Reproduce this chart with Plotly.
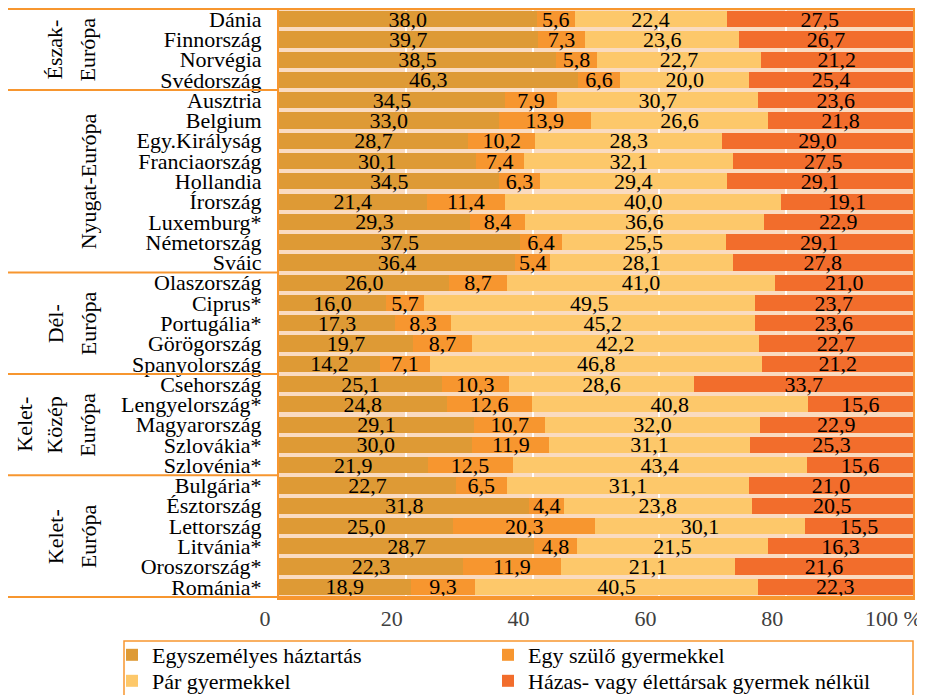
import plotly.graph_objects as go

countries = ["Dánia", "Finnország", "Norvégia", "Svédország",
             "Ausztria", "Belgium", "Egy.Királyság", "Franciaország", "Hollandia",
             "Írország", "Luxemburg*", "Németország", "Sváic",
             "Olaszország", "Ciprus*", "Portugália*", "Görögország", "Spanyolország",
             "Csehország", "Lengyelország*", "Magyarország", "Szlovákia*", "Szlovénia*",
             "Bulgária*", "Észtország", "Lettország", "Litvánia*", "Oroszország*", "Románia*"]

egyszemelyes = [38.0, 39.7, 38.5, 46.3, 34.5, 33.0, 28.7, 30.1, 34.5, 21.4, 29.3, 37.5, 36.4,
                26.0, 16.0, 17.3, 19.7, 14.2, 25.1, 24.8, 29.1, 30.0, 21.9,
                22.7, 31.8, 25.0, 28.7, 22.3, 18.9]
egy_szulo = [5.6, 7.3, 5.8, 6.6, 7.9, 13.9, 10.2, 7.4, 6.3, 11.4, 8.4, 6.4, 5.4,
             8.7, 5.7, 8.3, 8.7, 7.1, 10.3, 12.6, 10.7, 11.9, 12.5,
             6.5, 4.4, 20.3, 4.8, 11.9, 9.3]
par_gyermekkel = [22.4, 23.6, 22.7, 20.0, 30.7, 26.6, 28.3, 32.1, 29.4, 40.0, 36.6, 25.5, 28.1,
                  41.0, 49.5, 45.2, 42.2, 46.8, 28.6, 40.8, 32.0, 31.1, 43.4,
                  31.1, 23.8, 30.1, 21.5, 21.1, 40.5]
hazas = [27.5, 26.7, 21.2, 25.4, 23.6, 21.8, 29.0, 27.5, 29.1, 19.1, 22.9, 29.1, 27.8,
         21.0, 23.7, 23.6, 22.7, 21.2, 33.7, 15.6, 22.9, 25.3, 15.6,
         21.0, 20.5, 15.5, 16.3, 21.6, 22.3]

series_names = ["Egyszemélyes háztartás", "Egy szülő gyermekkel",
                "Pár gyermekkel", "Házas- vagy élettársak gyermek nélkül"]
series_values = [egyszemelyes, egy_szulo, par_gyermekkel, hazas]
colors = ["#DE9A35", "#F7962F", "#FDC86A", "#F26D2C"]
legend_ids = ["legend", "legend2", "legend3", "legend4"]

x_tickvals = [0, 20, 40, 60, 80, 100]
x_ticktext = ["0", "20", "40", "60", "80", "100 %\u00a0\u00a0"]

groups = [
    (["Észak-", "Európa"], 1.5),
    (["Nyugat-Európa"], 8),
    (["Dél-", "Európa"], 15),
    (["Kelet-", "Közép", "Európa"], 20),
    (["Kelet-", "Európa"], 25.5),
]
group_bounds = [-0.5, 3.5, 12.5, 17.5, 22.5, 28.5]

FONT = "'Liberation Serif', 'Times New Roman', Times, serif"
FS = 22
ORANGE = "#F7962F"
OFF = 8  # page body offset in the browser
W, H = 925 - OFF, 695 - OFF
ML, MR, MT, MB = 279 - OFF, 12, 0, 97
PW = W - ML - MR
PH = H - MT - MB


def px_to_paper_x(px):
    return (px - OFF - ML) / PW


def px_to_paper_y(py):
    return (H - MB - (py - OFF)) / PH


fig = go.Figure()
for name, vals, col, lg in zip(series_names, series_values, colors, legend_ids):
    fig.add_trace(go.Bar(
        y=countries, x=vals, name=name, orientation="h",
        marker=dict(color=col, line=dict(width=0)),
        text=[f"{v:.1f}".replace(".", ",") for v in vals],
        textposition="inside", insidetextanchor="middle", textangle=0,
        constraintext="none",
        textfont=dict(family=FONT, size=FS, color="black"),
        legend=lg, showlegend=True,
    ))

shapes = []
for i, b in enumerate(group_bounds):
    x1 = 1 if i in (0, len(group_bounds) - 1) else 0
    shapes.append(dict(type="line", xref="paper", yref="y",
                       x0=px_to_paper_x(OFF), x1=x1, y0=b, y1=b,
                       line=dict(color=ORANGE, width=2), layer="above"))
# legend box
shapes.append(dict(type="rect", xref="paper", yref="paper",
                   x0=px_to_paper_x(124), x1=px_to_paper_x(913),
                   y0=px_to_paper_y(700), y1=px_to_paper_y(641),
                   line=dict(color=ORANGE, width=1.5), fillcolor="rgba(0,0,0,0)"))

annotations = []
col_px = {1: [88], 2: [55, 88], 3: [25, 55, 88]}
for lines, yc in groups:
    xs = col_px[len(lines)]
    for ln, xp in zip(lines, xs):
        annotations.append(dict(text=ln, xref="paper", yref="y",
                                x=px_to_paper_x(xp), y=yc, textangle=-90,
                                showarrow=False, xanchor="center", yanchor="middle",
                                font=dict(family=FONT, size=FS, color="black")))

legend_pos = {"legend": (112, 634), "legend2": (488, 634),
              "legend3": (112, 660), "legend4": (488, 660)}
legend_layouts = {}
for lid, (lx, ly) in legend_pos.items():
    legend_layouts[lid] = dict(x=px_to_paper_x(lx), y=px_to_paper_y(ly),
                               xanchor="left", yanchor="top", orientation="v",
                               bgcolor="rgba(0,0,0,0)", font=dict(family=FONT, size=FS),
                               itemwidth=30, visible=True)

fig.update_layout(
    width=W, height=H, showlegend=True,
    margin=dict(l=ML, r=MR, t=MT, b=MB, pad=0, autoexpand=False),
    barmode="stack", barnorm="percent", bargap=0.2,
    plot_bgcolor="#FADBC0", paper_bgcolor="white",
    font=dict(family=FONT, size=FS, color="black"),
    xaxis=dict(range=[0, 100], tickmode="array", tickvals=x_tickvals, ticktext=x_ticktext,
               showgrid=True, gridcolor="white", gridwidth=1.5,
               showline=True, linecolor=ORANGE, linewidth=2, mirror=True,
               zeroline=False, ticklabelshift=-14, ticklabelstandoff=0,
               ticklabeloverflow="allow", automargin=False,
               tickfont=dict(family=FONT, size=FS, color="#404040")),
    yaxis=dict(autorange="reversed", tickmode="array", tickvals=countries,
               showline=True, linecolor=ORANGE, linewidth=2, automargin=False,
               mirror=True, showgrid=False, ticklabelstandoff=11,
               tickfont=dict(family=FONT, size=FS, color="black")),
    shapes=shapes, annotations=annotations,
    **legend_layouts,
)

fig.write_html("out.html")
